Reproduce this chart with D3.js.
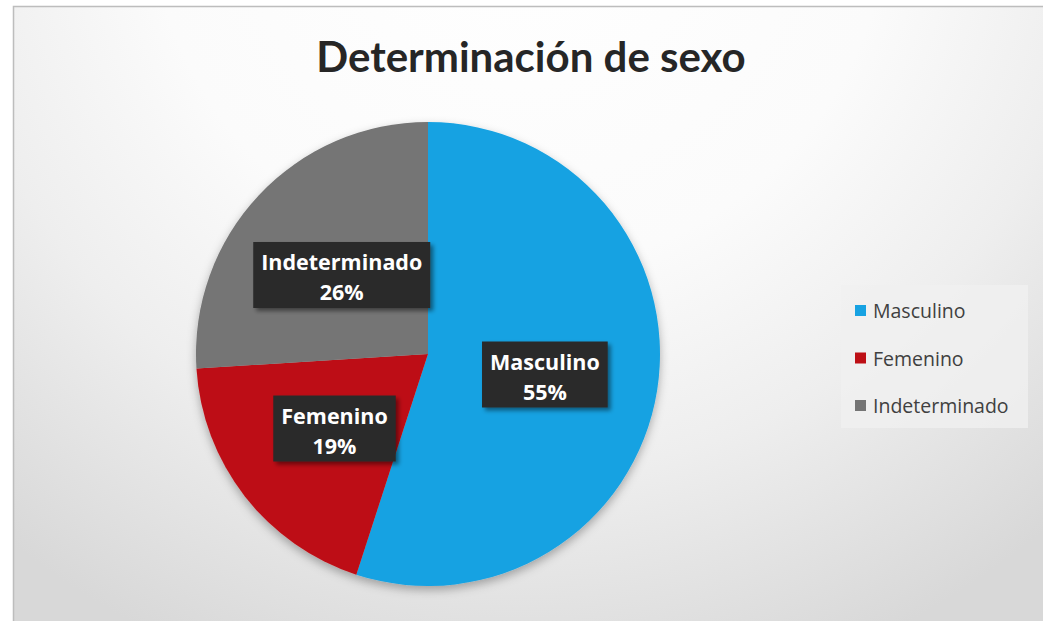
<!DOCTYPE html>
<html>
<head>
<meta charset="utf-8">
<script src="https://cdn.jsdelivr.net/npm/d3@7"></script>
<style>
  body { margin: 0; background: #fff; }
  svg { display: block; }
</style>
</head>
<body>
<div id="chart"></div>
<script>
// data
const categories = ["Masculino", "Femenino", "Indeterminado"];
const percents = [55, 19, 26];
const colors = ["#17a2e2", "#bd0f15", "#747474"];
const title = "Determinación de sexo";

const W = 1043, H = 621;
const svg = d3.select("#chart").append("svg")
    .attr("width", W)
    .attr("height", H);

const defs = svg.append("defs");

// soft background, white near the top fading to grey at the bottom
const bg = defs.append("radialGradient")
    .attr("id", "bg")
    .attr("gradientUnits", "userSpaceOnUse")
    .attr("cx", 520).attr("cy", -100).attr("r", 820);
bg.append("stop").attr("offset", "0%").attr("stop-color", "#ffffff");
bg.append("stop").attr("offset", "45%").attr("stop-color", "#fbfbfb");
bg.append("stop").attr("offset", "70%").attr("stop-color", "#eeeeee");
bg.append("stop").attr("offset", "100%").attr("stop-color", "#d8d8d8");

const pieShadow = defs.append("filter").attr("id", "pieShadow")
    .attr("x", "-20%").attr("y", "-20%").attr("width", "140%").attr("height", "140%");
pieShadow.append("feDropShadow")
    .attr("dx", 0).attr("dy", 4).attr("stdDeviation", 5)
    .attr("flood-color", "#000").attr("flood-opacity", 0.3);

const boxShadow = defs.append("filter").attr("id", "boxShadow")
    .attr("x", "-20%").attr("y", "-20%").attr("width", "140%").attr("height", "140%");
boxShadow.append("feDropShadow")
    .attr("dx", 3).attr("dy", 3).attr("stdDeviation", 2)
    .attr("flood-color", "#000").attr("flood-opacity", 0.45);

// chart area + border
svg.append("rect")
    .attr("x", 13.5).attr("y", 6.5)
    .attr("width", W).attr("height", H)
    .attr("fill", "url(#bg)")
    .attr("stroke", "#bdbdbd")
    .attr("stroke-width", 1.5);

// title
svg.append("text")
    .attr("x", 531).attr("y", 72)
    .attr("text-anchor", "middle")
    .attr("font-family", "Lato, 'Open Sans', sans-serif")
    .attr("font-weight", "bold")
    .attr("font-size", 42)
    .attr("fill", "#262626")
    .text(title);

// pie
const cx = 428, cy = 354, radius = 232;
const data = categories.map((c, i) => ({ name: c, value: percents[i], color: colors[i] }));

const pie = d3.pie().value(d => d.value).sort(null);
const arc = d3.arc().innerRadius(0).outerRadius(radius);
const labelArc = d3.arc().innerRadius(radius * 0.51).outerRadius(radius * 0.51);
const arcs = pie(data);

const g = svg.append("g").attr("transform", "translate(" + cx + "," + cy + ")");

g.append("g")
    .attr("filter", "url(#pieShadow)")
    .selectAll("path")
    .data(arcs)
    .enter().append("path")
    .attr("d", arc)
    .attr("fill", d => d.data.color);

// data labels, dark boxes with name and percent
const labels = g.selectAll(".label")
    .data(arcs)
    .enter().append("g")
    .attr("class", "label")
    .attr("transform", d => {
        let c = labelArc.centroid(d);
        return "translate(" + c[0] + "," + (c[1] + 2) + ")";
    });

labels.each(function(d) {
    let lg = d3.select(this);
    let box = lg.append("rect").attr("fill", "#2b2b2b").attr("filter", "url(#boxShadow)");
    let t = lg.append("text")
        .attr("text-anchor", "middle")
        .attr("font-family", "'Open Sans', Lato, sans-serif")
        .attr("font-weight", "bold")
        .attr("font-size", 21.5)
        .attr("fill", "#ffffff");
    t.append("tspan").attr("x", 0).attr("y", -5).text(d.data.name);
    t.append("tspan").attr("x", 0).attr("y", 25).text(d.data.value + "%");
    let tw = t.select("tspan").node().getComputedTextLength();
    box.attr("x", -tw / 2 - 8).attr("y", -33)
        .attr("width", tw + 16).attr("height", 66);
});

// legend
const legend = svg.append("g").attr("transform", "translate(841,285)");
legend.append("rect")
    .attr("width", 187).attr("height", 143)
    .attr("fill", "#f0f0f0").attr("opacity", 0.8);

const items = legend.selectAll(".item")
    .data(data)
    .enter().append("g")
    .attr("class", "item")
    .attr("transform", (d, i) => "translate(14," + (26 + i * 47.5) + ")");

items.append("rect")
    .attr("x", 0).attr("y", -6)
    .attr("width", 11).attr("height", 11)
    .attr("fill", d => d.color);

items.append("text")
    .attr("x", 18).attr("y", 7)
    .attr("font-family", "'Open Sans', Lato, sans-serif")
    .attr("font-size", 19.5)
    .attr("fill", "#404040")
    .text(d => d.name);
</script>
</body>
</html>
